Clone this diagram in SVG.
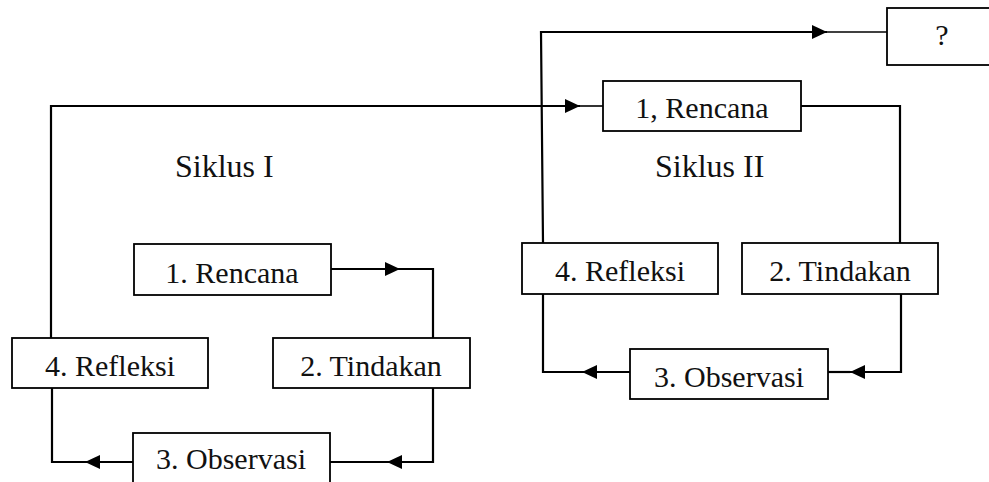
<svg xmlns="http://www.w3.org/2000/svg" width="989" height="482" viewBox="0 0 989 482">
<style>
  .box { fill: #fff; stroke: #000; stroke-width: 1.8; }
  .lbl { font-family: "Liberation Serif", "Times New Roman", serif; font-size: 30px; fill: #111; text-anchor: middle; }
  .title { font-family: "Liberation Serif", "Times New Roman", serif; font-size: 32px; fill: #111; }
  .ln { fill: none; stroke: #000; stroke-width: 2.2; stroke-linejoin: miter; }
  .thin { fill: none; stroke: #000; stroke-width: 1.6; }
</style>
<defs>
  <marker id="ah" markerUnits="userSpaceOnUse" markerWidth="16" markerHeight="15" refX="15" refY="7" orient="auto">
    <path d="M0,0 L15,7 L0,14 z" fill="#000"/>
  </marker>
</defs>
<rect width="989" height="482" fill="#fff"/>

<g id="connectors">
  <!-- Siklus I Refleksi -> Siklus II Rencana -->
  <path class="ln" d="M51,338 V106 H580" marker-end="url(#ah)"/>
  <path class="thin" d="M580,106 H603"/>
  <!-- Siklus II Refleksi -> ? -->
  <path class="ln" d="M543,243 L541,32 H827" marker-end="url(#ah)"/>
  <path class="thin" d="M827,32 H887"/>
  <!-- II Rencana -> Tindakan -->
  <path class="ln" d="M801,106 H900 V243"/>
  <!-- II Tindakan -> Observasi -->
  <path class="ln" d="M901,294 V372 H850" marker-end="url(#ah)"/>
  <path class="ln" d="M850,372 H828"/>
  <!-- II Observasi -> Refleksi -->
  <path class="ln" d="M630,372 H582" marker-end="url(#ah)"/>
  <path class="ln" d="M582,372 H543 V294"/>
  <!-- I Rencana -> Tindakan -->
  <path class="ln" d="M331,269 H400" marker-end="url(#ah)"/>
  <path class="ln" d="M400,269 H433 V338"/>
  <!-- I Tindakan -> Observasi -->
  <path class="ln" d="M433,388 V462 H387" marker-end="url(#ah)"/>
  <path class="ln" d="M387,462 H330"/>
  <!-- I Observasi -> Refleksi -->
  <path class="ln" d="M133,462 H85" marker-end="url(#ah)"/>
  <path class="ln" d="M85,462 H52 V388"/>
</g>

<g id="label-siklus1"><text class="title" x="175" y="177">Siklus I</text></g>
<g id="label-siklus2"><text class="title" x="655" y="177">Siklus II</text></g>

<g id="q">
  <rect class="box" x="887" y="8" width="106" height="57"/>
  <text class="lbl" x="942" y="45">?</text>
</g>
<g id="s2-rencana">
  <rect class="box" x="603" y="81" width="198" height="50"/>
  <text class="lbl" x="702" y="118">1, Rencana</text>
</g>
<g id="s2-refleksi">
  <rect class="box" x="522" y="243" width="196" height="51"/>
  <text class="lbl" x="620" y="281">4. Refleksi</text>
</g>
<g id="s2-tindakan">
  <rect class="box" x="742" y="243" width="196" height="51"/>
  <text class="lbl" x="840" y="281">2. Tindakan</text>
</g>
<g id="s2-observasi">
  <rect class="box" x="630" y="349" width="198" height="50"/>
  <text class="lbl" x="729" y="387">3. Observasi</text>
</g>
<g id="s1-rencana">
  <rect class="box" x="134" y="244" width="197" height="51"/>
  <text class="lbl" x="232" y="283">1. Rencana</text>
</g>
<g id="s1-tindakan">
  <rect class="box" x="273" y="338" width="197" height="50"/>
  <text class="lbl" x="371" y="376">2. Tindakan</text>
</g>
<g id="s1-refleksi">
  <rect class="box" x="12" y="338" width="196" height="50"/>
  <text class="lbl" x="110" y="376">4. Refleksi</text>
</g>
<g id="s1-observasi">
  <rect class="box" x="133" y="433" width="197" height="52"/>
  <text class="lbl" x="231" y="469">3. Observasi</text>
</g>
</svg>
